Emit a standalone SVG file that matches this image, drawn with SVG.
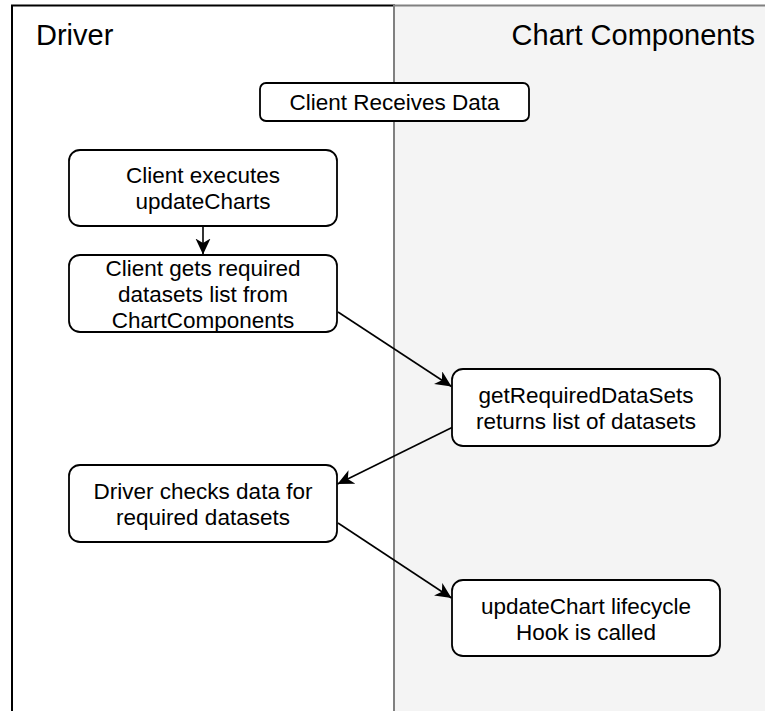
<svg xmlns="http://www.w3.org/2000/svg" width="765" height="711" viewBox="0 0 765 711">
<style>
  .node { fill: #ffffff; stroke: #000000; stroke-width: 1.8; }
  .t { font-family: "Liberation Sans", Arial, sans-serif; font-size: 22.5px; fill: #000000; text-anchor: middle; }
  .title { font-family: "Liberation Sans", Arial, sans-serif; font-size: 29px; fill: #000000; }
  .edge { fill: none; stroke: #000000; stroke-width: 1.6; }
</style>
<defs>
  <marker id="arrow" markerUnits="userSpaceOnUse" markerWidth="20" markerHeight="18" refX="16" refY="7.5" orient="auto">
    <path d="M0,0 L16,7.5 L0,15 L4.5,7.5 Z" fill="#000000"/>
  </marker>
</defs>
<rect width="765" height="711" fill="#ffffff"/>
<g id="lane-driver">
  <rect x="12" y="5.5" width="382" height="720" fill="#ffffff" stroke="#000000" stroke-width="2"/>
  <text class="title" x="36" y="45">Driver</text>
</g>
<g id="lane-chart-components">
  <rect x="394" y="5.5" width="390" height="720" fill="#f4f4f4" stroke="#808080" stroke-width="2"/>
  <text class="title" x="755" y="45" text-anchor="end">Chart Components</text>
</g>
<g id="node-client-receives-data">
  <rect class="node" x="260" y="83" width="269" height="38" rx="6"/>
  <text class="t" x="394.5" y="110">Client Receives Data</text>
</g>
<g id="node-client-executes">
  <rect class="node" x="69" y="150" width="268" height="76" rx="11"/>
  <text class="t" x="203" y="183">Client executes</text>
  <text class="t" x="203" y="209">updateCharts</text>
</g>
<g id="node-client-gets">
  <rect class="node" x="69" y="255" width="268" height="77" rx="11"/>
  <text class="t" x="203" y="276">Client gets required</text>
  <text class="t" x="203" y="302">datasets list from</text>
  <text class="t" x="203" y="328">ChartComponents</text>
</g>
<g id="node-get-required">
  <rect class="node" x="452" y="369" width="268" height="77" rx="11"/>
  <text class="t" x="586" y="403">getRequiredDataSets</text>
  <text class="t" x="586" y="429">returns list of datasets</text>
</g>
<g id="node-driver-checks">
  <rect class="node" x="69" y="465" width="268" height="77" rx="11"/>
  <text class="t" x="203" y="499">Driver checks data for</text>
  <text class="t" x="203" y="525">required datasets</text>
</g>
<g id="node-update-chart">
  <rect class="node" x="452" y="580" width="268" height="76" rx="11"/>
  <text class="t" x="586" y="614">updateChart lifecycle</text>
  <text class="t" x="586" y="640">Hook is called</text>
</g>
<g id="connectors">
  <path class="edge" d="M203,226 L203,254.5" marker-end="url(#arrow)"/>
  <path class="edge" d="M338,312 L451.5,386.5" marker-end="url(#arrow)"/>
  <path class="edge" d="M452,427.5 L337.5,484" marker-end="url(#arrow)"/>
  <path class="edge" d="M338,523 L451.5,598" marker-end="url(#arrow)"/>
</g>
</svg>
